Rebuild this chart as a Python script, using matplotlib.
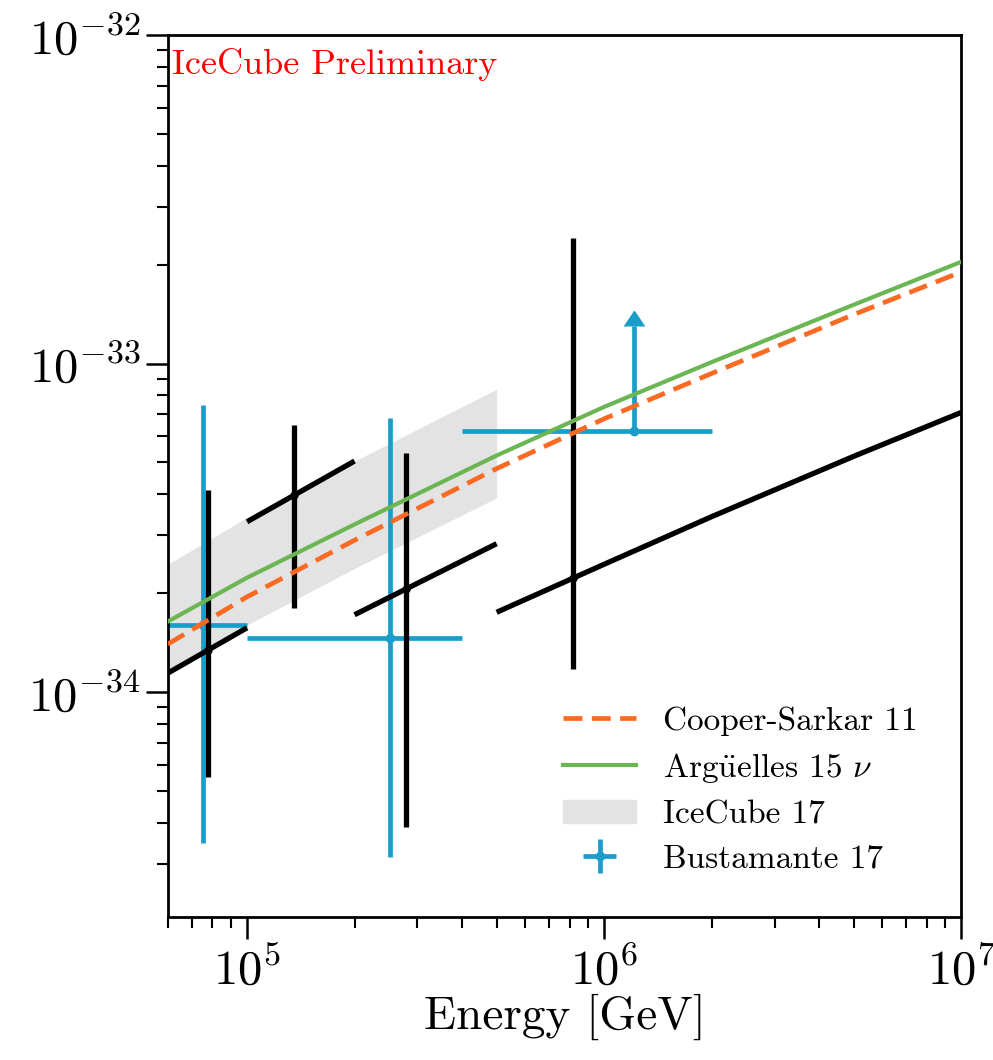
import numpy as np
import matplotlib
matplotlib.use("Agg")
import matplotlib.pyplot as plt

plt.rcParams['font.family'] = 'serif'
plt.rcParams['font.serif'] = ['cmr10']
plt.rcParams['mathtext.fontset'] = 'cm'
plt.rcParams['axes.formatter.use_mathtext'] = True

# theory curves (GeV, cm^2)
e_theory = [6e4, 1e5, 2e5, 5e5, 1e6, 2e6, 5e6, 1e7]
cooper_sarkar = [1.40e-34, 1.95e-34, 2.90e-34, 4.79e-34, 6.79e-34, 9.33e-34, 1.41e-33, 1.90e-33]
arguelles = [1.64e-34, 2.23e-34, 3.24e-34, 5.25e-34, 7.38e-34, 1.01e-33, 1.51e-33, 2.04e-33]

# IceCube 17 band
e_band = [6e4, 1e5, 2e5, 5e5]
band_lo = [1.15e-34, 1.60e-34, 2.38e-34, 3.90e-34]
band_hi = [2.45e-34, 3.40e-34, 5.05e-34, 8.35e-34]

# this analysis (black): points, errors and bin segments
e_pts = [7.78e4, 1.35e5, 2.79e5, 8.19e5]
sig_pts = [1.34e-34, 3.98e-34, 2.06e-34, 2.22e-34]
sig_up = [4.12e-34, 6.50e-34, 5.35e-34, 2.41e-33]
sig_dn = [5.5e-35, 1.80e-34, 3.88e-35, 1.18e-34]
seg_e = [[5e4, 1e5], [1e5, 2e5], [2e5, 5e5], [5e5, 1e6, 2e6, 5e6, 1e7]]
seg_sig = [[1.02e-34, 1.57e-34], [3.30e-34, 5.05e-34], [1.72e-34, 2.83e-34],
           [1.75e-34, 2.45e-34, 3.42e-34, 5.22e-34, 7.10e-34]]

# Bustamante 17
b_e = [7.53e4, 2.52e5, 1.21e6]
b_lo = [5e4, 1e5, 4e5]
b_hi = [1e5, 4e5, 2e6]
b_sig = [1.60e-34, 1.46e-34, 6.24e-34]
b_up = [7.48e-34, 6.82e-34, 1.30e-33]
b_dn = [3.47e-35, 3.15e-35, 6.24e-34]

blue = '#1b9dc9'
fig = plt.figure(figsize=(9.93, 10.6), dpi=100)
ax = fig.add_axes([0.169, 0.135, 0.799, 0.832])

ax.fill_between(e_band, band_lo, band_hi, color='#e3e3e3', lw=0, zorder=1, label='IceCube 17')

# Bustamante
for i in range(3):
    xe = [[b_e[i] - b_lo[i]], [b_hi[i] - b_e[i]]]
    if i == 2:
        ye = [[0], [b_up[i] - b_sig[i]]]
        eb = ax.errorbar(b_e[i], b_sig[i], xerr=xe, yerr=ye, lolims=True, fmt='o', ms=6,
                         color=blue, lw=3.4, capsize=0, zorder=2)
        eb[1][0].set_markersize(14)
    else:
        ye = [[b_sig[i] - b_dn[i]], [b_up[i] - b_sig[i]]]
        eb = ax.errorbar(b_e[i], b_sig[i], xerr=xe, yerr=ye, fmt='o', ms=6,
                         color=blue, lw=3.4, capsize=0, zorder=2)
        if i == 0:
            b_handle = eb

# black data
for i in range(4):
    ax.plot(seg_e[i], seg_sig[i], color='black', lw=3.8, zorder=3, solid_capstyle='butt')
    ye = [[sig_pts[i] - sig_dn[i]], [sig_up[i] - sig_pts[i]]]
    ax.errorbar(e_pts[i], sig_pts[i], yerr=ye, fmt='o', ms=5, color='black', lw=3.8,
                capsize=0, zorder=3)

l1, = ax.plot(e_theory, cooper_sarkar, '--', color='#fb6a22', lw=3.4, zorder=4, dashes=(4, 2))
l2, = ax.plot(e_theory, arguelles, '-', color='#6bb653', lw=3.0, zorder=4)

ax.set_xscale('log')
ax.set_yscale('log')
ax.set_xlim(6e4, 1e7)
ax.set_ylim(2.07e-35, 1e-32)
ax.set_xlabel('Energy [GeV]', fontsize=34, labelpad=0)

ax.tick_params(which='major', labelsize=35, length=16, width=1.8, direction='out',
               top=False, right=False)
ax.tick_params(which='minor', length=8, width=1.5, direction='out', top=False, right=False)
ax.tick_params(axis='x', which='major', pad=6)
for s in ax.spines.values():
    s.set_linewidth(2.0)

ax.text(0.005, 0.985, 'IceCube Preliminary', color='red', fontsize=26,
        transform=ax.transAxes, ha='left', va='top')

band_patch = plt.Rectangle((0, 0), 1, 1, color='#e3e3e3')
ax.legend([l1, l2, band_patch, b_handle],
          ['Cooper-Sarkar 11', r'Arg$\ddot{\mathrm{u}}$elles 15 $\nu$', 'IceCube 17', 'Bustamante 17'],
          loc='lower right', frameon=False, fontsize=24, handlelength=2.2,
          labelspacing=0.45, borderaxespad=0.9)

fig.savefig('out.png', dpi=100)
